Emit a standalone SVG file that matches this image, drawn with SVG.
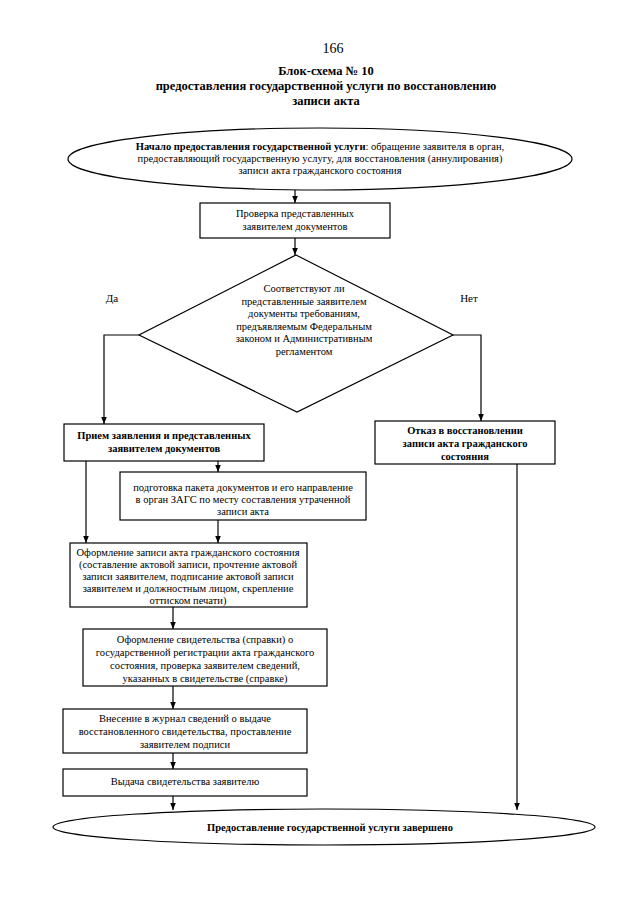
<svg xmlns="http://www.w3.org/2000/svg" width="640" height="905" viewBox="0 0 640 905">
<defs>
<marker id="ah" viewBox="0 0 10 10" refX="10" refY="5" markerWidth="7" markerHeight="7" orient="auto" markerUnits="userSpaceOnUse">
<path d="M0,1 L10,5 L0,9 z" fill="#000"/>
</marker>
<style>
text{font-family:"Liberation Serif","Times New Roman",serif;fill:#000;text-anchor:middle}
.t{font-size:10.5px}
.b{font-size:10.5px;font-weight:bold}
.h{font-size:12.5px;font-weight:bold}
.shape{fill:#fff;stroke:#000;stroke-width:1.2}
.con{fill:none;stroke:#000;stroke-width:1.2;marker-end:url(#ah)}
</style>
</defs>
<rect width="640" height="905" fill="#fff"/>
<g id="header">
<text x="333" y="53" style="font-size:14px">166</text>
<text x="326" y="75" class="h">Блок-схема № 10</text>
<text x="326" y="90" class="h">предоставления государственной услуги по восстановлению</text>
<text x="326" y="105" class="h">записи акта</text>
</g>
<g id="connectors">
<line class="con" x1="295" y1="190" x2="295" y2="203"/>
<line class="con" x1="295" y1="238" x2="295" y2="255"/>
<polyline class="con" points="139,335 104,335 104,424"/>
<polyline class="con" points="453,335 481,335 481,421"/>
<line class="con" x1="218" y1="461" x2="218" y2="472"/>
<line class="con" x1="86" y1="461" x2="86" y2="543"/>
<line class="con" x1="218" y1="520" x2="218" y2="543"/>
<line class="con" x1="173" y1="607" x2="173" y2="629"/>
<line class="con" x1="173" y1="686" x2="173" y2="709"/>
<line class="con" x1="173" y1="753" x2="173" y2="769"/>
<line class="con" x1="173" y1="796" x2="173" y2="810"/>
<line class="con" x1="517" y1="464" x2="517" y2="810"/>
</g>
<g id="start">
<ellipse class="shape" cx="320" cy="159" rx="252" ry="31"/>
<text x="320" y="150" class="t"><tspan font-weight="bold">Начало предоставления государственной услуги</tspan>: обращение заявителя в орган,</text>
<text x="320" y="162" class="t">предоставляющий государственную услугу, для восстановления (аннулирования)</text>
<text x="320" y="174" class="t">записи акта гражданского состояния</text>
</g>
<g id="check">
<rect class="shape" x="200" y="203" width="190" height="35"/>
<text x="295" y="217" class="t">Проверка представленных</text>
<text x="295" y="230" class="t">заявителем документов</text>
</g>
<g id="decision">
<polygon class="shape" points="296,255 453,335 297,412 139,335"/>
<text x="304" y="292" class="t">Соответствуют ли</text>
<text x="304" y="304.5" class="t">представленные заявителем</text>
<text x="304" y="317" class="t">документы требованиям,</text>
<text x="304" y="329.5" class="t">предъявляемым Федеральным</text>
<text x="304" y="342" class="t">законом и Административным</text>
<text x="304" y="354.5" class="t">регламентом</text>
</g>
<g id="labels">
<text x="112" y="302" class="t" style="font-size:11px">Да</text>
<text x="469" y="302" class="t" style="font-size:11px">Нет</text>
</g>
<g id="accept">
<rect class="shape" x="64" y="424" width="200" height="37"/>
<text x="164" y="439" class="b">Прием заявления и представленных</text>
<text x="164" y="452" class="b">заявителем документов</text>
</g>
<g id="refuse">
<rect class="shape" x="375" y="421" width="180" height="43"/>
<text x="465" y="434" class="b">Отказ в восстановлении</text>
<text x="465" y="447" class="b">записи акта гражданского</text>
<text x="465" y="460" class="b">состояния</text>
</g>
<g id="prepare">
<rect class="shape" x="120" y="472" width="246" height="48"/>
<text x="243" y="491" class="t">подготовка пакета документов и его направление</text>
<text x="243" y="503" class="t">в орган ЗАГС по месту составления утраченной</text>
<text x="243" y="515" class="t">записи акта</text>
</g>
<g id="record">
<rect class="shape" x="70" y="543" width="237" height="64"/>
<text x="188" y="556" class="t">Оформление записи акта гражданского состояния</text>
<text x="188" y="568" class="t">(составление актовой записи, прочтение актовой</text>
<text x="188" y="580" class="t">записи заявителем, подписание актовой записи</text>
<text x="188" y="592" class="t">заявителем и должностным лицом, скрепление</text>
<text x="188" y="604" class="t">оттиском печати)</text>
</g>
<g id="certificate">
<rect class="shape" x="83" y="629" width="244" height="57"/>
<text x="205" y="643" class="t">Оформление свидетельства (справки) о</text>
<text x="205" y="656" class="t">государственной регистрации акта гражданского</text>
<text x="205" y="669" class="t">состояния, проверка заявителем сведений,</text>
<text x="205" y="682" class="t">указанных в свидетельстве (справке)</text>
</g>
<g id="journal">
<rect class="shape" x="63" y="709" width="244" height="44"/>
<text x="185" y="722" class="t">Внесение в журнал сведений о выдаче</text>
<text x="185" y="735" class="t">восстановленного свидетельства, проставление</text>
<text x="185" y="748" class="t">заявителем подписи</text>
</g>
<g id="issue">
<rect class="shape" x="63" y="769" width="244" height="27"/>
<text x="185" y="785" class="t">Выдача свидетельства заявителю</text>
</g>
<g id="end">
<ellipse class="shape" cx="324" cy="827" rx="271" ry="18"/>
<text x="330" y="831" class="b">Предоставление государственной услуги завершено</text>
</g>
</svg>
